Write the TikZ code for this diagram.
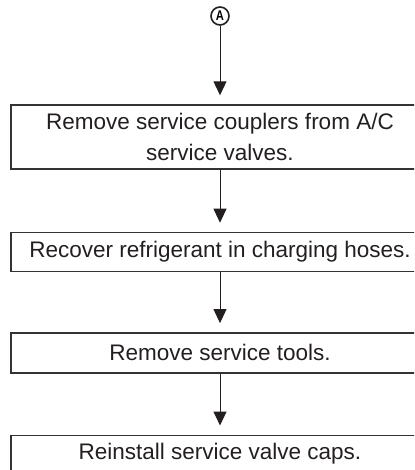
\documentclass[tikz,border=0pt]{standalone}
\usepackage{fontspec}
\setmainfont{Liberation Sans}
\usepackage{xcolor}
\usepackage{tikz}
\usetikzlibrary{arrows.meta, positioning}

\definecolor{inkline}{HTML}{333333}
\definecolor{inktext}{HTML}{231F20}

\begin{document}
\begin{tikzpicture}[
    x=0.5pt, y=-0.5pt,
    stepbox/.style={draw=inkline, line width=0.7pt, minimum width=209pt, align=center,
        inner sep=2pt, text=inktext, font=\fontsize{11.25}{15.5}\selectfont},
    connector/.style={draw=inktext, circle, line width=0.8pt, minimum size=9pt, inner sep=0pt,
        font=\bfseries\fontsize{7}{7}\selectfont},
    flow/.style={-{Triangle[length=7pt, width=6.5pt]}, line width=0.5pt, draw=inktext, shorten >=4.5pt},
    node distance=30.5pt
]
\clip (0,0) rectangle (414,470);
\useasboundingbox (0,0) rectangle (414,470);

\node[connector] (conA) at (220,16) {\scalebox{0.8}[1]{A}};
\node[stepbox, minimum height=32pt] (couplers) at (220,137) {Remove service couplers from A/C\\service valves.};
\node[stepbox, minimum height=19.5pt, below=31pt of couplers] (recover) {Recover refrigerant in charging hoses.};
\node[stepbox, minimum height=20pt, below=30pt of recover] (tools) {Remove service tools.};
\node[stepbox, minimum height=18.5pt, below=30.5pt of tools] (caps) {Reinstall service valve caps.};

\draw[flow] (conA) -- (couplers);
\draw[flow] (couplers) -- (recover);
\draw[flow] (recover) -- (tools);
\draw[flow] (tools) -- (caps);
\end{tikzpicture}
\end{document}
